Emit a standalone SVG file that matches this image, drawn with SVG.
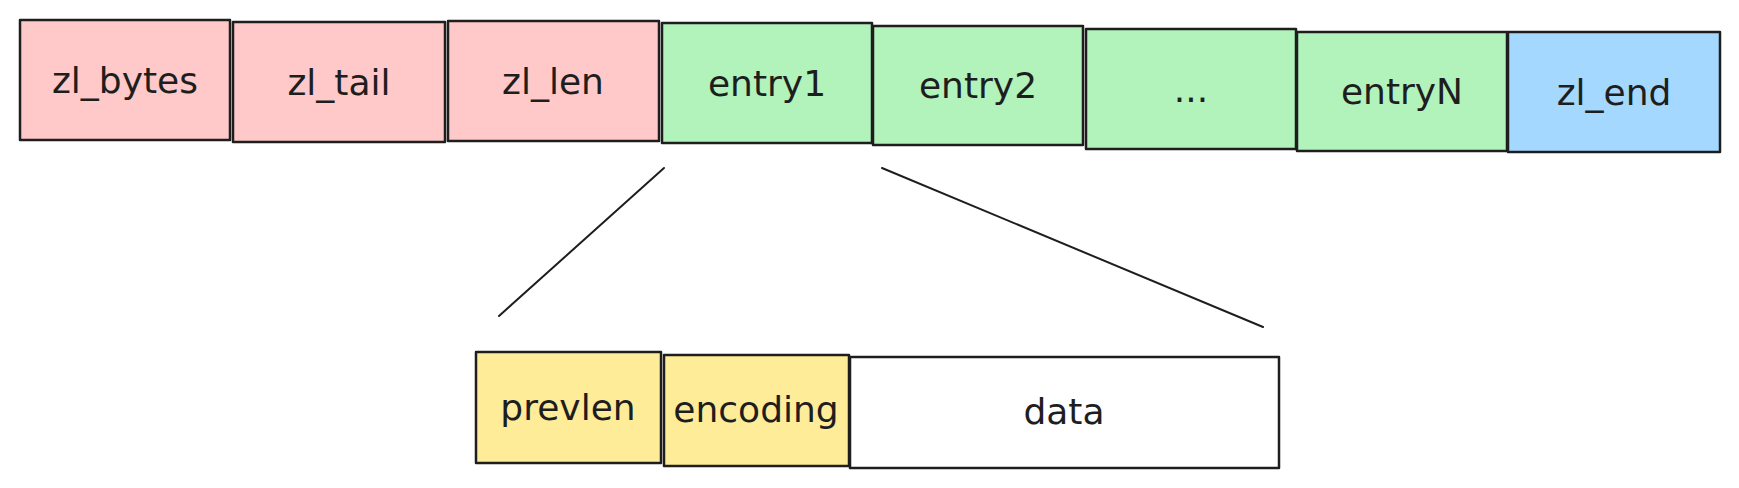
<svg xmlns="http://www.w3.org/2000/svg" width="1739" height="488" viewBox="0 0 1739 488">
  <style>
    .box { stroke: #1e1e1e; stroke-width: 2.5; stroke-linejoin: round; }
    .red { fill: #ffc9c9; }
    .green { fill: #b2f2bb; }
    .blue { fill: #a5d8ff; }
    .yellow { fill: #ffec99; }
    .white { fill: #ffffff; }
    .lbl { font-family: "DejaVu Sans", "Liberation Sans", sans-serif; font-size: 36px; fill: #1e1e1e; text-anchor: middle; }
    .conn { stroke: #1e1e1e; stroke-width: 2; fill: none; stroke-linecap: round; }
  </style>
  <rect width="1739" height="488" fill="#ffffff"/>

  <g id="zl_bytes">
    <rect class="box red" x="20" y="20" width="210" height="120"/>
    <text class="lbl" x="125" y="93">zl_bytes</text>
  </g>
  <g id="zl_tail">
    <rect class="box red" x="233" y="22" width="212" height="120"/>
    <text class="lbl" x="339" y="95">zl_tail</text>
  </g>
  <g id="zl_len">
    <rect class="box red" x="448" y="21" width="211" height="120"/>
    <text class="lbl" x="553" y="94">zl_len</text>
  </g>
  <g id="entry1">
    <rect class="box green" x="662" y="23" width="210" height="120"/>
    <text class="lbl" x="767" y="96">entry1</text>
  </g>
  <g id="entry2">
    <rect class="box green" x="873" y="26" width="210" height="119"/>
    <text class="lbl" x="978" y="98">entry2</text>
  </g>
  <g id="ellipsis">
    <rect class="box green" x="1086" y="29" width="210" height="120"/>
    <text class="lbl" x="1191" y="102">...</text>
  </g>
  <g id="entryN">
    <rect class="box green" x="1297" y="32" width="210" height="119"/>
    <text class="lbl" x="1402" y="104">entryN</text>
  </g>
  <g id="zl_end">
    <rect class="box blue" x="1508" y="32" width="212" height="120"/>
    <text class="lbl" x="1614" y="105">zl_end</text>
  </g>

  <g id="connectors">
    <line class="conn" x1="664" y1="168" x2="499" y2="316"/>
    <line class="conn" x1="882" y1="168" x2="1263" y2="327"/>
  </g>

  <g id="prevlen">
    <rect class="box yellow" x="476" y="352" width="185" height="111"/>
    <text class="lbl" x="568" y="420">prevlen</text>
  </g>
  <g id="encoding">
    <rect class="box yellow" x="664" y="355" width="185" height="111"/>
    <text class="lbl" x="756" y="422">encoding</text>
  </g>
  <g id="data">
    <rect class="box white" x="850" y="357" width="429" height="111"/>
    <text class="lbl" x="1064" y="424">data</text>
  </g>
</svg>
